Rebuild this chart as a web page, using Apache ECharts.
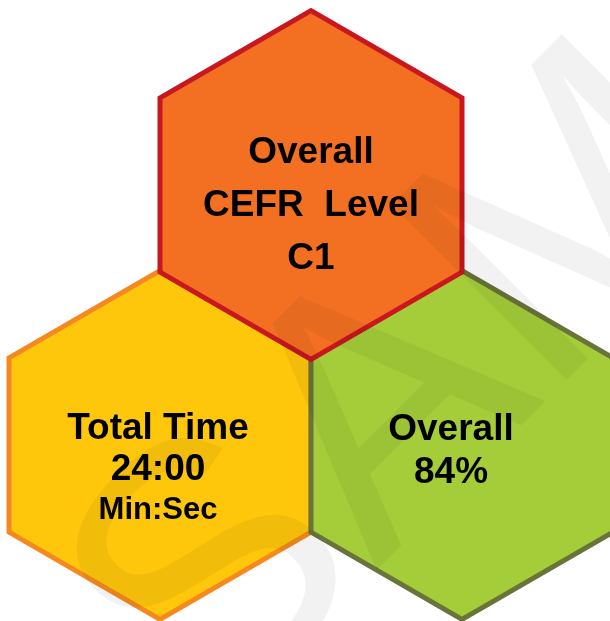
<!DOCTYPE html>
<html>
<head>
<meta charset="utf-8">
<script src="https://cdn.jsdelivr.net/npm/echarts@6/dist/echarts.min.js"></script>
<style>
html, body { margin: 0; padding: 0; background: #fff; }
#main { width: 610px; height: 621px; }
</style>
</head>
<body>
<div id="main"></div>
<script>
// honeycomb cells (column / row) and what each one says
var hexCol = [0, 1, 0.5];
var hexRow = [0, 0, 1];
var hexTitle = ['Total Time', 'Overall', 'Overall\nCEFR  Level'];
var hexValue = ['24:00', '84%', 'C1'];
var hexUnit = ['Min:Sec', '', ''];

// styling per cell
var hexFill = ['#ffc70b', '#a5cd39', '#f37022'];
var hexBorder = ['#f5891f', '#69743a', '#c8171e'];
var labelShift = [[-2, 24], [-11, 6], [0, 21]];
var labelLineHeight = [41, 43, 53];

var chart = echarts.init(document.getElementById('main'));

var data = hexCol.map(function (c, i) {
  return [c, hexRow[i]];
});

function hexPoints(cx, cy, r) {
  var pts = [];
  for (var k = 0; k < 6; k++) {
    var a = Math.PI / 180 * (60 * k - 90);
    pts.push([cx + r * Math.cos(a), cy + r * Math.sin(a)]);
  }
  return pts;
}

var option = {
  animation: false,
  backgroundColor: '#fff',
  grid: { left: 160, right: 148, top: 185, bottom: 176 },
  xAxis: { type: 'value', min: 0, max: 1, show: false },
  yAxis: { type: 'value', min: 0, max: 1, show: false },
  graphic: [{
    type: 'text',
    z: 100,
    x: 136,
    y: 670,
    rotation: Math.PI / 4,
    silent: true,
    style: {
      text: 'SAMPLE',
      font: '360px "Liberation Sans", Arial',
      fill: 'rgba(0,0,0,0.05)',
      align: 'left',
      verticalAlign: 'middle'
    }
  }],
  series: [{
    type: 'custom',
    coordinateSystem: 'cartesian2d',
    clip: false,
    data: data,
    renderItem: function (params, api) {
      var i = params.dataIndex;
      var c = api.coord([api.value(0), api.value(1)]);
      var r = api.size([1, 0])[0] / Math.sqrt(3);
      var txt = hexTitle[i] + '\n' + hexValue[i];
      if (hexUnit[i]) txt += '\n{u|' + hexUnit[i] + '}';
      return {
        type: 'group',
        children: [{
          type: 'polygon',
          shape: { points: hexPoints(c[0], c[1], r) },
          style: {
            fill: hexFill[i],
            stroke: hexBorder[i],
            lineWidth: 5,
            lineJoin: 'miter'
          }
        }, {
          type: 'text',
          x: c[0] + labelShift[i][0],
          y: c[1] + labelShift[i][1],
          style: {
            text: txt,
            align: 'center',
            verticalAlign: 'middle',
            font: 'bold 37px "Liberation Sans", Arial',
            fill: '#000',
            lineHeight: labelLineHeight[i],
            rich: {
              u: { font: 'bold 31px "Liberation Sans", Arial', fill: '#000', lineHeight: 40 }
            }
          }
        }]
      };
    }
  }]
};

chart.setOption(option);
</script>
</body>
</html>
